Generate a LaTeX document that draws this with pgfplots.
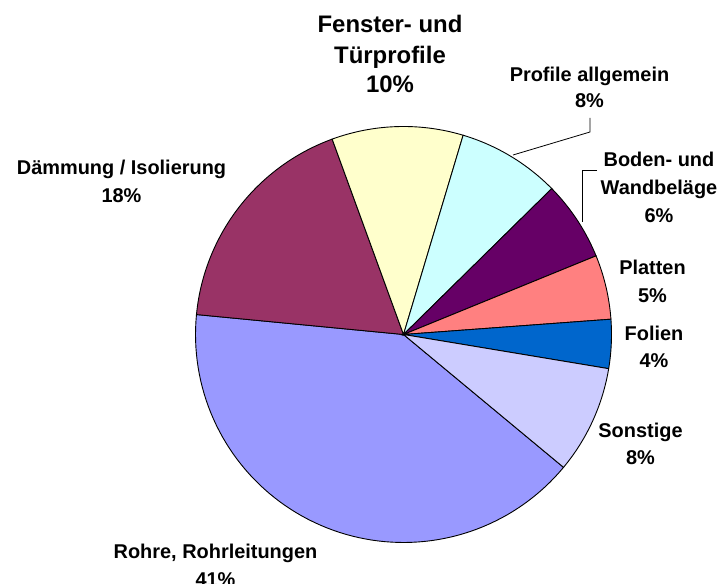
\documentclass[border=0pt]{standalone}
\usepackage{pgfplots}
\pgfplotsset{compat=1.18}
\usepackage{fontspec}
\setmainfont{Liberation Sans}
\definecolor{rohre}{HTML}{9999FF}
\definecolor{daemmung}{HTML}{993366}
\definecolor{fenster}{HTML}{FFFFCC}
\definecolor{profile}{HTML}{CCFFFF}
\definecolor{boden}{HTML}{660066}
\definecolor{platten}{HTML}{FF8080}
\definecolor{folien}{HTML}{0066CC}
\definecolor{sonstige}{HTML}{CCCCFF}
\def\cx{403.5}
\def\cy{249.5}
\def\rr{208}
\gdef\curang{-39.7}
\newcommand\slice[2]{%
  \pgfmathsetmacro\endang{\curang-3.6*#1}%
  \edef\temp{\noexpand\addplot[draw=black, line width=0.9bp, fill=#2, domain=\endang:\curang, samples=80] ({\cx+\rr*cos(x)},{\cy+\rr*sin(x)}) -- (\cx,\cy) -- cycle;}%
  \temp
  \global\let\curang\endang
}
\newcommand\lab[4]{% x, baseline y, size, text
  \node[anchor=base, inner sep=0pt, font=\bfseries\fontsize{#3}{#3}\selectfont] at (#1,#2) {#4};}
\begin{document}
\begin{tikzpicture}
\useasboundingbox (0,0) rectangle (721bp,584bp);
\clip (0,0) rectangle (721bp,584bp);
\begin{axis}[
  at={(0,0)}, anchor=south west,
  scale only axis, width=721bp, height=584bp,
  xmin=0, xmax=721, ymin=0, ymax=584,
  hide axis, clip=false,
]
% percentages, clockwise from the Sonstige/Rohre boundary
\slice{40.5}{rohre}
\slice{17.9}{daemmung}
\slice{10.2}{fenster}
\slice{8.0}{profile}
\slice{6.2}{boden}
\slice{5.0}{platten}
\slice{3.8}{folien}
\slice{8.4}{sonstige}
% leader lines
\draw[black, line width=0.8bp] (590,466) -- (590,452) -- (513,429);
\draw[black, line width=0.8bp] (597,414) -- (582,414) -- (582,362);
% labels
\lab{390}{551}{24}{Fenster- und}
\lab{390}{520}{24}{Türprofile}
\lab{390}{491}{24}{10\%}
\lab{589.5}{502}{20}{Profile allgemein}
\lab{589.5}{476}{20}{8\%}
\lab{659}{417}{20}{Boden- und}
\lab{659}{389}{20}{Wandbeläge}
\lab{659}{361}{20}{6\%}
\lab{652.5}{309}{20}{Platten}
\lab{652.5}{281}{20}{5\%}
\lab{654}{243}{20}{Folien}
\lab{654}{216}{20}{4\%}
\lab{640.5}{146}{20}{Sonstige}
\lab{640.5}{119}{20}{8\%}
\lab{121.5}{409}{20}{Dämmung / Isolierung}
\lab{121.5}{381}{20}{18\%}
\lab{215.5}{26}{20}{Rohre, Rohrleitungen}
\lab{215.5}{-2}{20}{41\%}
\end{axis}
\end{tikzpicture}
\end{document}
